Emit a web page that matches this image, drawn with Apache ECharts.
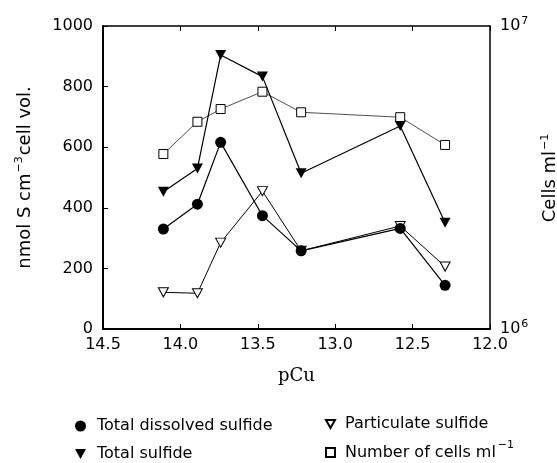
<!DOCTYPE html>
<html>
<head>
<meta charset="utf-8">
<script src="https://cdn.jsdelivr.net/npm/echarts@6/dist/echarts.min.js"></script>
<style>html,body{margin:0;padding:0;background:#fff}#c{width:557px;height:463px}</style>
</head>
<body>
<div id="c"></div>
<script>
const pCu = [14.11, 13.89, 13.74, 13.47, 13.22, 12.58, 12.29];
const dissolved = [330, 412, 616, 374, 258, 332, 144];
const totalSulfide = [453, 530, 904, 833, 514, 670, 351];
const particulate = [121, 118, 285, 455, 258, 340, 206];
const cells = [3.78e6, 4.83e6, 5.32e6, 6.07e6, 5.19e6, 5.0e6, 4.05e6];
const leftTicks = [0, 200, 400, 600, 800, 1000];
const seriesNames = ['Total dissolved sulfide', 'Total sulfide', 'Particulate sulfide', 'Number of cells ml-1'];

const DOWN_TRI = 'path://M0,0 L10,0 L5,9 Z';
const SQUARE = 'path://M0,0 L10,0 L10,10 L0,10 Z';
const FONT = 'DejaVu Sans';

const pairs = arr => pCu.map((x, i) => [x, arr[i]]);

const chart = echarts.init(document.getElementById('c'), null, {renderer: 'canvas'});
const nameRich = {
  a: {fontFamily: FONT, fontSize: 18, color: '#000'},
  s: {fontFamily: FONT, fontSize: 11, color: '#000', padding: [0, 1, 12, 1]}
};
const tickRich = {
  a: {fontFamily: FONT, fontSize: 16, color: '#000'},
  s: {fontFamily: FONT, fontSize: 11, color: '#000', padding: [0, 0, 10, 1]}
};
const legendText = {
  fontFamily: FONT, fontSize: 16, color: '#000',
  rich: {a: {fontFamily: FONT, fontSize: 16, color: '#000'},
         s: {fontFamily: FONT, fontSize: 11, color: '#000', padding: [0, 0, 14, 2]}}
};
function oneLegend(name, icon, left, top, size, pad) {
  return {
    orient: 'vertical', left: left, top: top, itemWidth: size, itemHeight: size,
    textStyle: Object.assign({}, legendText, {padding: [0, 0, 0, pad]}),
    formatter: n => n === 'Number of cells ml-1' ? '{a|Number of cells ml}{s|\u22121}' : n,
    data: [{name: name, icon: icon}]
  };
}
chart.setOption({
  animation: false,
  backgroundColor: '#fff',
  grid: {left: 103, right: 67, top: 26, bottom: 134, containLabel: false, outerBoundsMode: 'none'},
  xAxis: [{
    type: 'value', min: 12, max: 14.5, interval: 0.5, inverse: true, position: 'bottom',
    axisLine: {show: true, onZero: false, lineStyle: {color: '#000', width: 2}},
    axisTick: {show: true, inside: true, length: 5, lineStyle: {color: '#000', width: 1}},
    axisLabel: {fontFamily: FONT, fontSize: 16, color: '#000', margin: 8,
      formatter: v => v.toFixed(1)},
    splitLine: {show: false},
    name: 'pCu', nameLocation: 'middle', nameGap: 38,
    nameTextStyle: {fontFamily: 'DejaVu Serif', fontSize: 18, color: '#000'}
  }, {
    type: 'value', min: 12, max: 14.5, interval: 0.5, inverse: true, position: 'top',
    axisLine: {show: true, onZero: false, lineStyle: {color: '#000', width: 1.5}},
    axisTick: {show: true, inside: true, length: 5, lineStyle: {color: '#000', width: 1}},
    axisLabel: {show: false}, splitLine: {show: false}
  }],
  yAxis: [{
    type: 'value', min: leftTicks[0], max: leftTicks[leftTicks.length - 1], interval: 200, position: 'left',
    axisLine: {show: true, onZero: false, lineStyle: {color: '#000', width: 2}},
    axisTick: {show: true, inside: true, length: 5, lineStyle: {color: '#000', width: 1}},
    axisLabel: {fontFamily: FONT, fontSize: 16, color: '#000', margin: 10, formatter: v => String(v)},
    splitLine: {show: false},
    name: '{a|nmol S cm}{s|\u22123}{a|cell vol.}', nameLocation: 'middle', nameGap: 66, nameRotate: 90,
    nameTextStyle: {rich: nameRich}
  }, {
    type: 'log', logBase: 10, min: 1e6, max: 1e7, position: 'right',
    axisLine: {show: true, onZero: false, lineStyle: {color: '#000', width: 1.5}},
    axisTick: {show: false},
    minorTick: {show: false},
    axisLabel: {margin: 10, formatter: v => '{a|10}{s|' + Math.round(Math.log10(v)) + '}',
      rich: tickRich},
    splitLine: {show: false},
    name: '{a|Cells ml}{s|\u22121}', nameLocation: 'middle', nameGap: 35, nameRotate: 90,
    nameTextStyle: {rich: nameRich}
  }],
  legend: [
    oneLegend(seriesNames[0], 'circle', 70, 413, 11, 6),
    oneLegend(seriesNames[1], DOWN_TRI, 70, 441, 11, 6),
    oneLegend(seriesNames[2], DOWN_TRI, 320, 411, 9, 5),
    oneLegend(seriesNames[3], SQUARE, 320, 435, 9, 5)
  ],
  series: [{
    name: seriesNames[3], type: 'line', yAxisIndex: 1, data: pairs(cells),
    symbol: SQUARE, symbolSize: 9,
    lineStyle: {color: '#222', width: 0.8},
    itemStyle: {color: '#fff', borderColor: '#000', borderWidth: 1}, z: 2
  }, {
    name: seriesNames[2], type: 'line', data: pairs(particulate),
    symbol: DOWN_TRI, symbolSize: [10, 9],
    lineStyle: {color: '#000', width: 1},
    itemStyle: {color: '#fff', borderColor: '#000', borderWidth: 1}, z: 3
  }, {
    name: seriesNames[0], type: 'line', data: pairs(dissolved),
    symbol: 'circle', symbolSize: 11,
    lineStyle: {color: '#000', width: 1.2},
    itemStyle: {color: '#000', borderColor: '#000', borderWidth: 0}, z: 4
  }, {
    name: seriesNames[1], type: 'line', data: pairs(totalSulfide),
    symbol: DOWN_TRI, symbolSize: [11, 10],
    lineStyle: {color: '#000', width: 1.2},
    itemStyle: {color: '#000', borderColor: '#000', borderWidth: 0}, z: 5
  }]
});
</script>
</body>
</html>
